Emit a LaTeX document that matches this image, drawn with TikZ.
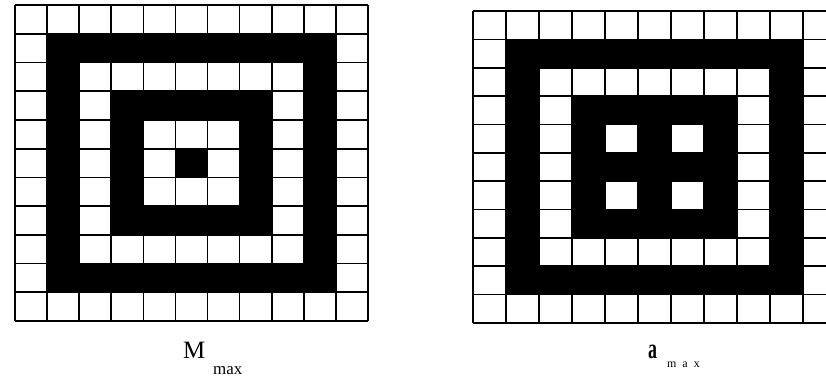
\documentclass[tikz,border=0pt]{standalone}
\usepackage{fontspec}
\setmainfont{Liberation Serif}
\begin{document}
\begin{tikzpicture}[x=1bp,y=-1bp,
  gridline/.style={line width=1.7bp, black, line cap=square},
  lbl/.style={inner sep=0pt, anchor=base west}]
\useasboundingbox (0,0) rectangle (826,379);
\fill[white] (0,0) rectangle (826,379);
% left grid (M_max)
\begin{scope}[xshift=15bp, yshift=-5bp, x=32.09bp, y=-28.73bp]
  \fill[black] (1,1) rectangle (10,10);
  \fill[white] (2,2) rectangle (9,9);
  \fill[black] (3,3) rectangle (8,8);
  \fill[white] (4,4) rectangle (7,7);
  \fill[black] (5,5) rectangle (6,6);
  \foreach \i in {0,...,11} {
    \draw[gridline] (\i,0) -- (\i,11);
    \draw[gridline] (0,\i) -- (11,\i);
  }
\end{scope}
% right grid (a_max)
\begin{scope}
\clip (0,0) rectangle (826,379);
\begin{scope}[xshift=473bp, yshift=-11bp, x=33.0bp, y=-28.36bp]
  \fill[black] (1,1) rectangle (10,10);
  \fill[white] (2,2) rectangle (9,9);
  \fill[black] (3,3) rectangle (8,8);
  \fill[white] (4,4) rectangle (5,5);
  \fill[white] (6,4) rectangle (7,5);
  \fill[white] (4,6) rectangle (5,7);
  \fill[white] (6,6) rectangle (7,7);
  \foreach \i in {0,...,11} {
    \draw[gridline] (\i,0) -- (\i,11);
    \draw[gridline] (0,\i) -- (11,\i);
  }
\end{scope}
\end{scope}
% labels
\node[lbl] (mM) at (183,358) {\fontsize{25}{28}\selectfont M};
\node[lbl] (mmax) at (213,374) {\fontsize{17}{20}\selectfont max};
\node[lbl] (aA) at (648,358) {\fontsize{18}{20}\selectfont\scalebox{1}[1.6]{\textbf{a}}};
\node[lbl] (amax) at (667,367) {\fontsize{12}{14}\selectfont m\hspace{6bp}a\hspace{6bp}x};
\end{tikzpicture}
\end{document}
